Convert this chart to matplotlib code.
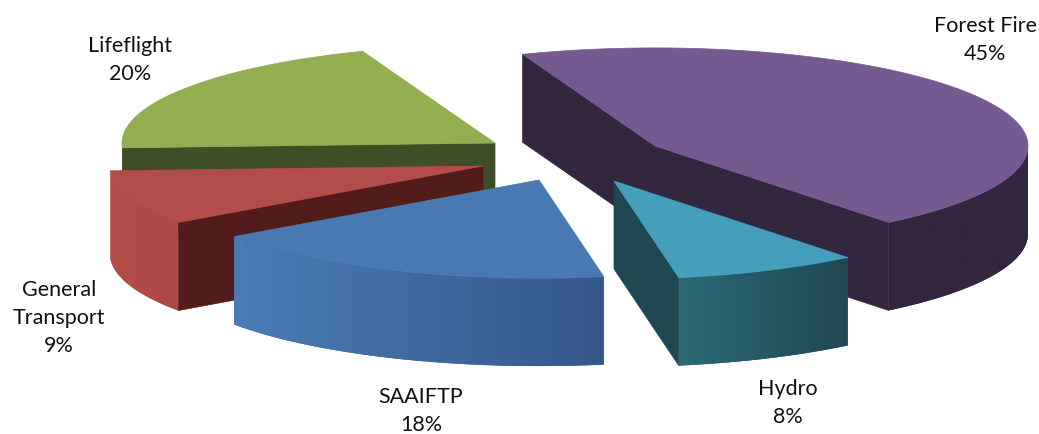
import numpy as np
import matplotlib
matplotlib.use("Agg")
import matplotlib.pyplot as plt
from matplotlib.colors import LinearSegmentedColormap
from matplotlib.patches import Polygon

# chart data
labels = ["Forest Fire", "Hydro", "SAAIFTP", "General\nTransport", "Lifeflight"]
shares = [45, 8, 18, 9, 20]

# layout, in image pixels
apex = [(655, 147), (614, 182), (539, 181), (483, 167), (495, 144)]
label_pos = [(985, 40), (788, 403), (421, 411), (59, 318), (130, 60)]
radius = 373
squash = 0.263
depth = 88
first_angle = 110.8

top_col = ["#755a92", "#469fba", "#4879b1", "#b34d49", "#93ae51"]
edge_col = ["#33263f", "#1f4752", "#33263f", "#521c1a", "#3f4e24"]
rim_left = ["#33263f", "#2c6a78", "#4a7cb5", "#b34d49", "#3f4e24"]
rim_right = ["#33263f", "#1f4752", "#345888", "#ad4843", "#3f4e24"]
draw_order = [0, 4, 3, 2, 1]


def rim_point(cx, cy, ang):
    a = np.radians(ang)
    return cx + radius * np.cos(a), cy - radius * squash * np.sin(a)


def draw_slice(ax, i, a0, a1, z):
    cx, cy = apex[i]
    # flat cut faces, only those turned to the viewer
    for ang, normal in [(a0, a0 + 90), (a1, a1 - 90)]:
        if np.sin(np.radians(normal)) < 0:
            x, y = rim_point(cx, cy, ang)
            ax.add_patch(Polygon([(cx, cy), (x, y), (x, y + depth), (cx, cy + depth)],
                                 fc=edge_col[i], ec=edge_col[i], lw=0.5, zorder=z))
    angs = np.linspace(a0, a1, 120)
    pts = [rim_point(cx, cy, a) for a in angs]
    # curved outer wall, a gradient image clipped to the front part of the rim
    front = [p for a, p in zip(angs, pts) if np.sin(np.radians(a)) <= 0]
    wall = front + [(x, y + depth) for x, y in reversed(front)]
    xs = [p[0] for p in wall]
    ys = [p[1] for p in wall]
    cmap = LinearSegmentedColormap.from_list("rim", [rim_left[i], rim_right[i]])
    img = ax.imshow(np.linspace(0, 1, 256).reshape(1, -1), cmap=cmap, aspect="auto",
                    extent=(min(xs), max(xs), max(ys), min(ys)), zorder=z + 1)
    # same outline under the image, closes the seam against the cut face
    clip = Polygon(wall, transform=ax.transData, fc=rim_right[i], lw=0, zorder=z + 0.5)
    ax.add_patch(clip)
    img.set_clip_path(clip)
    # top face
    ax.add_patch(Polygon([(cx, cy)] + pts, fc=top_col[i], ec=top_col[i], lw=0.5, zorder=z + 2))


fig = plt.figure(figsize=(10.39, 4.35), dpi=100)
ax = fig.add_axes([0, 0, 1, 1])
ax.axis("off")

sweeps = np.array(shares) / sum(shares) * 360
starts = first_angle - np.concatenate(([0], np.cumsum(sweeps)[:-1]))
for n, i in enumerate(draw_order):
    draw_slice(ax, i, starts[i], starts[i] - sweeps[i], n * 3)

ax.set_xlim(0, 1039)
ax.set_ylim(435, 0)

for name, share, (x, y) in zip(labels, shares, label_pos):
    ax.text(x, y, f"{name}\n{share}%", ha="center", va="center", fontsize=15.5,
            family="Lato", color="#111111", linespacing=1.5, zorder=50)

fig.savefig("out.png", dpi=100)
